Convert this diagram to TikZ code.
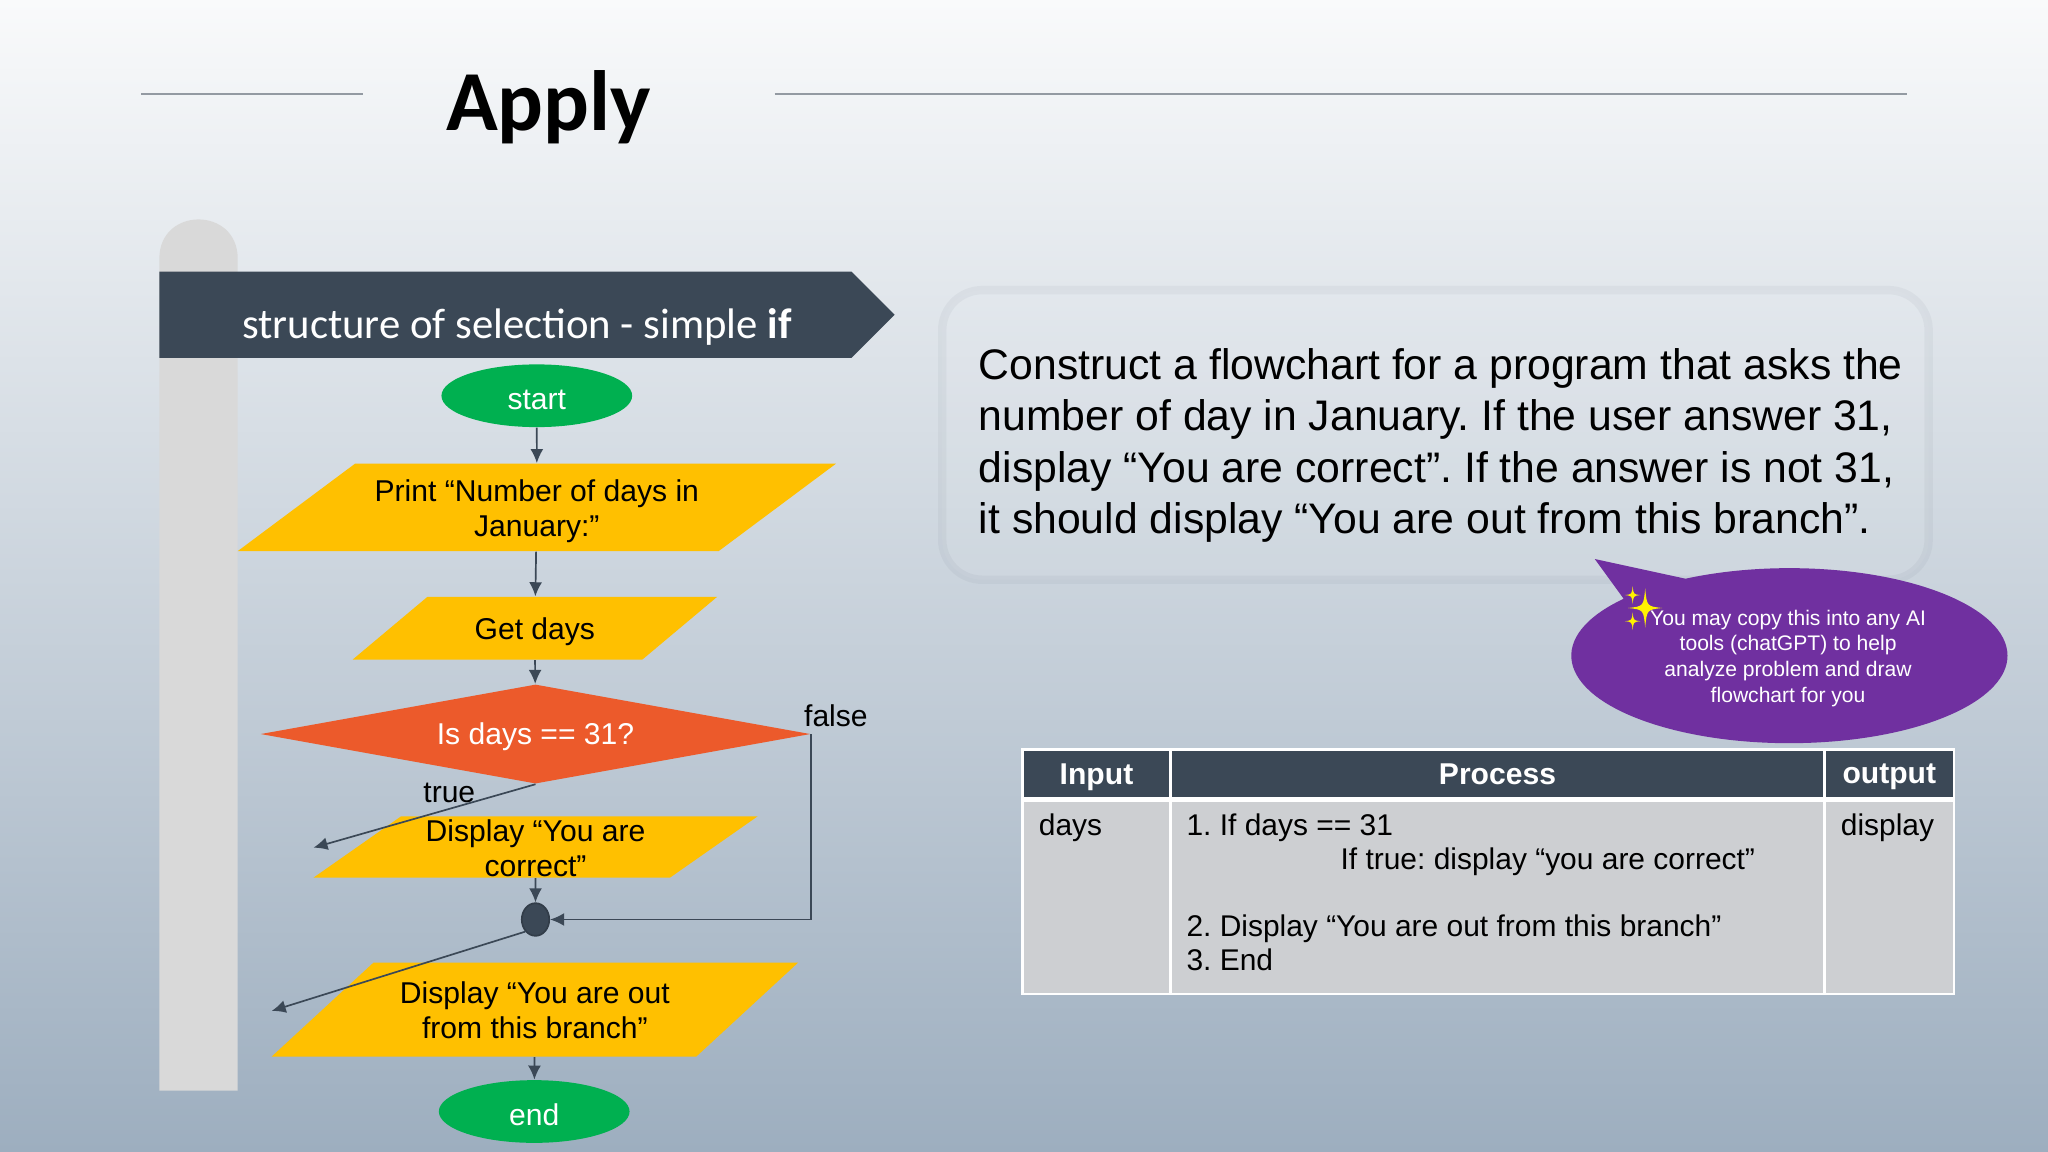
\documentclass[tikz,border=0pt]{standalone}
\usepackage{fontspec}
\setmainfont{Liberation Sans}
\newfontfamily\slidefont{Carlito}
\usetikzlibrary{arrows.meta,shapes.geometric,shapes.callouts}
\definecolor{slate}{HTML}{3B4856}
\definecolor{amber}{HTML}{FFC000}
\definecolor{leaf}{HTML}{00B050}
\definecolor{flame}{HTML}{EC5A2B}
\definecolor{plum}{HTML}{7030A0}
\definecolor{cellgray}{HTML}{CDCFD2}
\definecolor{skytop}{HTML}{F9FAFB}
\definecolor{skybottom}{HTML}{9DAEBF}
\newcommand{\sparkle}[3]{\fill[yellow] (#1-#3,#2) .. controls (#1-.1*#3,#2+.1*#3) .. (#1,#2+1.15*#3) .. controls (#1+.1*#3,#2+.1*#3) .. (#1+#3,#2) .. controls (#1+.1*#3,#2-.1*#3) .. (#1,#2-1.15*#3) .. controls (#1-.1*#3,#2-.1*#3) .. cycle;}
\tikzset{
        >={Latex[length=5pt,width=4.6pt]},
        flowline/.style={slate,line width=.6pt},
        body/.style={font=\fontsize{10.7}{12.5}\selectfont\frenchspacing,align=center,inner sep=0pt},
        terminal/.style={body,ellipse,fill=leaf,text=white,text height=10pt,text depth=0pt,minimum width=2.384cm,minimum height=.784cm},
        iobox/.style={body,trapezium,trapezium stretches body,fill=amber,text height=21.6pt,text depth=.8pt},
        headcell/.style={body,draw=white,line width=.9pt,fill=slate,text=white,text depth=0pt,font=\fontsize{10.7}{12.5}\selectfont\bfseries,minimum height=.604cm},
        bodycell/.style={body,draw=white,line width=.9pt,fill=cellgray,minimum height=2.449cm},
        celltext/.style={body,font=\fontsize{10.65}{12.1}\selectfont\frenchspacing,align=left,anchor=north west}
}
\begin{document}
\begin{tikzpicture}[x=0.016327cm,y=-0.016327cm]
        \shade[top color=skytop,bottom color=skybottom] (0,0) rectangle (1568,882);
        \useasboundingbox (0,0) rectangle (1568,882);
        \draw[slate!55!white,line width=.4pt] (108,72) -- (278,72);
        \draw[slate!55!white,line width=.4pt] (593,72) -- (1460,72);
        \node[font=\slidefont\bfseries\fontsize{30.4}{36}\selectfont] (title) at (420,82) {Apply};
        \fill[gray!30!white] (122,835) -- (122,198) .. controls (122,158) and (182,158) .. (182,198) -- (182,835) -- cycle;
        \fill[slate] (122,208) -- (652,208) -- (685,241) -- (652,274) -- (122,274) -- cycle;
        \node[font=\slidefont\fontsize{15.2}{18}\selectfont,text=white,anchor=west,inner sep=0pt] (banner) at (185,250) {structure of selection - simple \textbf{if}};
        \node[terminal] (start) at (411,303) {start};
        \node[iobox,trapezium left angle=36.7,trapezium right angle=143.3,inner ysep=4.35pt,minimum width=7.478cm] (printdays) at (411,388.5) {Print “Number of days in\\January:”};
        \node[iobox,text height=9.1pt,text depth=.8pt,trapezium left angle=40,trapezium right angle=140,inner ysep=6.2pt,minimum width=4.555cm] (getdays) at (409.5,481) {Get days};
        \node[body,diamond,aspect=5.54,fill=flame,text=white,text depth=0pt,minimum width=6.874cm,minimum height=1.241cm] (isdays) at (410,562) {Is days == 31?};
        \node[iobox,text height=21.3pt,text depth=.5pt,trapezium left angle=35,trapezium right angle=145,minimum width=5.551cm] (showcorrect) at (410,648.5) {Display “You are\\correct”};
        \node[body,ellipse,fill=slate,draw=slate!85!black,line width=.6pt,minimum width=.343cm,minimum height=.408cm] (merge) at (410,704) {};
        \node[iobox,trapezium left angle=42.7,trapezium right angle=137.3,inner ysep=5.5pt,minimum width=6.58cm] (showout) at (409.5,773) {Display “You are out\\from this branch”};
        \node[terminal] (end) at (409,851) {end};
        \coordinate (truetip) at (240,649);
        \coordinate (mergetip) at (208,774);
        \draw[flowline,->] (start) -- (printdays);
        \draw[flowline,->] (printdays) -- (getdays);
        \draw[flowline,->] (getdays) -- (isdays);
        \draw[flowline,->] (isdays.south) -- (truetip);
        \draw[flowline,->] (isdays.east) |- (merge.east);
        \draw[flowline,->] (showcorrect) -- (merge);
        \draw[flowline,->] (merge.south west) -- (mergetip);
        \draw[flowline,->] (showout) -- (end);
        \node[body] (truelabel) at (344,607) {true};
        \node[body] (falselabel) at (640,548) {false};
        \node[rectangle,rounded corners=.5cm,draw=slate,draw opacity=.05,line width=3pt,fill=white,fill opacity=.06,minimum width=12.33cm,minimum height=3.62cm] (questionbox) at (1099,333) {};
        \node[anchor=west,align=left,inner sep=0pt,font=\fontsize{15.2}{18.2}\selectfont\frenchspacing] (question) at (749,341) {Construct a flowchart for a program that asks the\\number of day in January. If the user answer 31,\\display “You are correct”. If the answer is not 31,\\it should display “You are out from this branch”.};
        \node[ellipse callout,fill=plum,inner sep=0pt,minimum width=5.453cm,minimum height=2.188cm,callout absolute pointer={(1221,428)},callout pointer arc=21] (hint) at (1370,502) {};
        \node[text=white,align=center,inner sep=0pt,font=\fontsize{7.5}{9.1}\selectfont] (hinttext) at (1369,504) {You may copy this into any AI\\tools (chatGPT) to help\\analyze problem and draw\\flowchart for you};
        \sparkle{1259.6}{465.5}{13}
        \sparkle{1250}{455.6}{6}
        \sparkle{1250}{475.6}{6}
        \node[headcell,minimum width=1.845cm] (headinput) at (839.5,592.5) {Input};
        \node[headcell,minimum width=8.18cm] (headprocess) at (1146.5,592.5) {Process};
        \node[headcell,minimum width=1.616cm] (headoutput) at (1446.5,592.5) {output};
        \node[bodycell,minimum width=1.845cm] (cellinput) at (839.5,686) {};
        \node[bodycell,minimum width=8.18cm] (cellprocess) at (1146.5,686) {};
        \node[bodycell,minimum width=1.616cm] (celloutput) at (1446.5,686) {};
        \draw[white,line width=1.6pt] (headinput.south west) -- (headoutput.south east);
        \node[celltext] (inputtext) at (795,623) {days};
        \node[celltext] (processtext) at (908,623) {1. If days == 31\\\hspace*{54.8pt}If true: display “you are correct”\\[11.6pt]2. Display “You are out from this branch”\\3. End};
        \node[celltext] (outputtext) at (1409,623) {display};
\end{tikzpicture}
\end{document}
